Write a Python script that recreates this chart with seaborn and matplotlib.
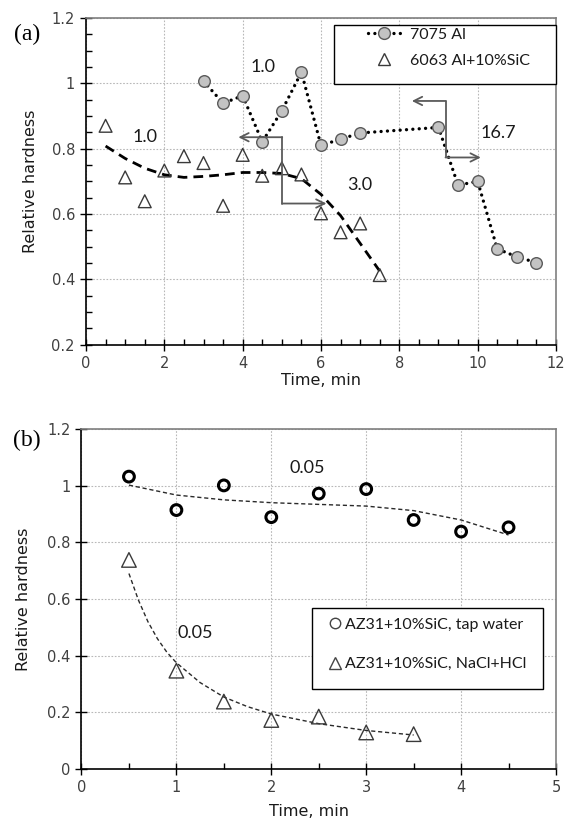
import numpy as np
import pandas as pd
import matplotlib
matplotlib.use("Agg")
import matplotlib.pyplot as plt
from matplotlib import font_manager
from matplotlib.lines import Line2D
from matplotlib.patches import Rectangle
import seaborn as sns

# ---------------- data: panel (a) ----------------
t_7075 = [3, 3.5, 4, 4.5, 5, 5.5, 6, 6.5, 7, 9, 9.5, 10, 10.5, 11, 11.5]
h_7075 = [1.007, 0.939, 0.962, 0.821, 0.916, 1.034, 0.810, 0.829, 0.848,
          0.865, 0.688, 0.700, 0.493, 0.469, 0.451]

t_6063 = [0.5, 1, 1.5, 2, 2.5, 3, 3.5, 4, 4.5, 5, 5.5, 6, 6.5, 7, 7.5]
h_6063 = [0.870, 0.712, 0.639, 0.733, 0.777, 0.756, 0.625, 0.781, 0.717,
          0.740, 0.721, 0.602, 0.544, 0.571, 0.413]

# trend line
t_6063_fit = [0.5, 1, 1.5, 2, 2.5, 3, 3.5, 4, 4.5, 5, 5.5, 6, 6.5, 7, 7.5]
h_6063_fit = [0.808, 0.770, 0.740, 0.720, 0.712, 0.715, 0.720, 0.727, 0.727,
              0.724, 0.708, 0.660, 0.595, 0.510, 0.425]

labels_a = ["7075 Al", "6063 Al+10%SiC"]
notes_a = ["1.0", "1.0", "3.0", "16.7"]

# ---------------- data: panel (b) ----------------
t_tap = [0.5, 1, 1.5, 2, 2.5, 3, 3.5, 4, 4.5]
h_tap = [1.032, 0.914, 1.001, 0.889, 0.972, 0.988, 0.879, 0.838, 0.853]
t_tap_fit = [0.5, 1, 1.5, 2, 2.5, 3, 3.5, 4, 4.5]
h_tap_fit = [1.002, 0.967, 0.950, 0.940, 0.934, 0.928, 0.912, 0.879, 0.826]

t_acid = [0.5, 1, 1.5, 2, 2.5, 3, 3.5]
h_acid = [0.738, 0.347, 0.238, 0.173, 0.185, 0.129, 0.123]
t_acid_fit = [0.5, 0.6, 0.7, 0.8, 0.9, 1, 1.25, 1.5, 1.75, 2, 2.5, 3, 3.5]
h_acid_fit = [0.690, 0.596, 0.520, 0.460, 0.412, 0.375, 0.305, 0.254, 0.220,
              0.194, 0.160, 0.136, 0.120]

labels_b = ["AZ31+10%SiC, tap water", "AZ31+10%SiC, NaCl+HCl"]
notes_b = ["0.05", "0.05"]

# ---------------- fonts ----------------
sns.set_style("white")
avail = {f.name for f in font_manager.fontManager.ttflist}
tick_font = "Liberation Sans Narrow" if "Liberation Sans Narrow" in avail else "DejaVu Sans"
main_font = "Lato" if "Lato" in avail else "DejaVu Sans"
serif_font = "Liberation Serif" if "Liberation Serif" in avail else "DejaVu Serif"
plt.rcParams["font.family"] = [main_font, "DejaVu Sans"]

TXT = "#1a1a1a"
TICKC = "#404040"
GRID = "#b8b8b8"
DOTS = (0, (0.01, 1.9))

fig = plt.figure(figsize=(5.64, 8.30), dpi=100)
ax1 = fig.add_axes([0.1525, 0.5848, 0.8333, 0.3935])
ax2 = fig.add_axes([0.1445, 0.0735, 0.8413, 0.4096])


def style_axes(ax, xlim, ylim, xmaj, ymaj, xminor, yminor):
    ax.set_xlim(*xlim)
    ax.set_ylim(*ylim)
    ax.set_xticks(xmaj)
    ax.set_yticks(ymaj)
    if xminor is not None:
        ax.set_xticks(xminor, minor=True)
    if yminor is not None:
        ax.set_yticks(yminor, minor=True)
    ax.grid(True, which="major", color=GRID, linestyle=(0, (1.5, 1.5)), linewidth=0.8)
    ax.set_axisbelow(True)
    for s in ["left", "bottom"]:
        ax.spines[s].set_color("black")
        ax.spines[s].set_linewidth(1.2)
    for s in ["top", "right"]:
        ax.spines[s].set_color("#7f7f7f")
        ax.spines[s].set_linewidth(1.2)
    ax.tick_params(which="major", direction="inout", length=8, width=1.0,
                   color="black", labelcolor=TICKC, labelsize=10.5, pad=4)
    ax.tick_params(which="minor", direction="in", length=4, width=1.0, color="black")
    ax.tick_params(axis="both", which="both", left=True, bottom=True, top=False, right=False)


def fmt(v):
    s = ("%.1f" % v)
    return s[:-2] if s.endswith(".0") else s


LABEL_KW = dict(fontsize=11.5, color=TXT, family=["DejaVu Sans"])

# ---------------- panel (a) ----------------
df_7075 = pd.DataFrame({"t": t_7075, "h": h_7075})
df_6063 = pd.DataFrame({"t": t_6063, "h": h_6063})
df_6063_fit = pd.DataFrame({"t": t_6063_fit, "h": h_6063_fit})

sns.lineplot(data=df_7075, x="t", y="h", ax=ax1, color="black",
             linestyle=DOTS, linewidth=2.4, dash_capstyle="round",
             sort=False, estimator=None, zorder=3)
sns.scatterplot(data=df_7075, x="t", y="h", ax=ax1, marker="o", s=70,
                facecolor="#c3c3c3", edgecolor="#5a5a5a", linewidth=1.0, zorder=4)
sns.lineplot(data=df_6063_fit, x="t", y="h", ax=ax1, color="black",
             linestyle=(0, (3.5, 2.2)), linewidth=2.0, estimator=None, zorder=3)
sns.scatterplot(data=df_6063, x="t", y="h", ax=ax1, marker="^", s=85,
                facecolor="none", edgecolor="#3a3a3a", linewidth=1.0, zorder=4)

style_axes(ax1, (0, 12), (0.2, 1.2), np.arange(0, 13, 2), np.arange(0.2, 1.21, 0.2),
           np.arange(0, 12.01, 0.5), np.arange(0.2, 1.201, 0.05))
ax1.set_xticklabels([fmt(v) for v in np.arange(0, 13, 2)], fontfamily=[tick_font, "DejaVu Sans"])
ax1.set_yticklabels([fmt(v) for v in np.arange(0.2, 1.21, 0.2)], fontfamily=[tick_font, "DejaVu Sans"])
ax1.set_xlabel("Time, min", **LABEL_KW)
ax1.set_ylabel("Relative hardness", **LABEL_KW)
ax1.xaxis.set_label_coords(0.5, -0.086)
ax1.yaxis.set_label_coords(-0.102, 0.5)

note_pos_a = [(1.51, 0.835), (4.53, 1.051), (7.0, 0.689), (10.53, 0.847)]
for txt, (x, y) in zip(notes_a, note_pos_a):
    ax1.text(x, y, txt, fontsize=13, color=TXT, ha="center", va="center")

ARROWC = "#5a5a5a"
arrows_a = [  # (x_vertical, y_top, y_bottom, x_left_tip, x_right_tip)
    (5.01, 0.835, 0.632, 3.89, 6.14),
    (9.18, 0.946, 0.773, 8.32, 10.08),
]
for xv, yt, yb, xl, xr in arrows_a:
    ax1.plot([xv, xv], [yt, yb], color=ARROWC, linewidth=1.3, zorder=5)
    ax1.annotate("", xy=(xl, yt), xytext=(xv, yt),
                 arrowprops=dict(arrowstyle="->,head_length=0.6,head_width=0.3",
                                 color=ARROWC, lw=1.3, shrinkA=0, shrinkB=0), zorder=5)
    ax1.annotate("", xy=(xr, yb), xytext=(xv, yb),
                 arrowprops=dict(arrowstyle="->,head_length=0.6,head_width=0.3",
                                 color=ARROWC, lw=1.3, shrinkA=0, shrinkB=0), zorder=5)

ax1.add_patch(Rectangle((0.528, 0.797), 0.472, 0.182, transform=ax1.transAxes,
                        facecolor="white", edgecolor="black", linewidth=1.0, zorder=6,
                        clip_on=False))
h1 = Line2D([], [], color="black", linestyle=DOTS, linewidth=2.4,
            dash_capstyle="round", marker="o", markersize=8.5,
            markerfacecolor="#c3c3c3", markeredgecolor="#5a5a5a")
h2 = Line2D([], [], linestyle="none", marker="^", markersize=9,
            markerfacecolor="none", markeredgecolor="#3a3a3a")
leg1 = ax1.legend([h1, h2], labels_a, loc="upper left", bbox_to_anchor=(0.59, 0.985),
                  frameon=False, fontsize=11.5, handlelength=2.0, handletextpad=0.6,
                  labelspacing=0.75, borderpad=0.3, borderaxespad=0)
leg1.set_zorder(7)
for t in leg1.get_texts():
    t.set_color(TXT)

fig.text(0.048, 0.958, "(a)", fontsize=17, family=serif_font, ha="center", va="center",
         color="black")

# ---------------- panel (b) ----------------
df_tap = pd.DataFrame({"t": t_tap, "h": h_tap})
df_tap_fit = pd.DataFrame({"t": t_tap_fit, "h": h_tap_fit})
df_acid = pd.DataFrame({"t": t_acid, "h": h_acid})
df_acid_fit = pd.DataFrame({"t": t_acid_fit, "h": h_acid_fit})

sns.lineplot(data=df_tap_fit, x="t", y="h", ax=ax2, color="#2a2a2a",
             linestyle=(0, (3, 2)), linewidth=1.0, estimator=None, zorder=3)
sns.lineplot(data=df_acid_fit, x="t", y="h", ax=ax2, color="#2a2a2a",
             linestyle=(0, (3, 2)), linewidth=1.0, estimator=None, zorder=3)
sns.scatterplot(data=df_tap, x="t", y="h", ax=ax2, marker="o", s=60,
                facecolor="none", edgecolor="black", linewidth=2.2, zorder=4)
sns.scatterplot(data=df_acid, x="t", y="h", ax=ax2, marker="^", s=110,
                facecolor="none", edgecolor="#3a3a3a", linewidth=1.0, zorder=4)

style_axes(ax2, (0, 5), (0, 1.2), np.arange(0, 6, 1), np.arange(0, 1.21, 0.2),
           np.arange(0, 5.01, 0.5), None)
ax2.set_xticklabels([fmt(v) for v in np.arange(0, 6, 1)], fontfamily=[tick_font, "DejaVu Sans"])
ax2.set_yticklabels([fmt(v) for v in np.arange(0, 1.21, 0.2)], fontfamily=[tick_font, "DejaVu Sans"])
ax2.set_xlabel("Time, min", **LABEL_KW)
ax2.set_ylabel("Relative hardness", **LABEL_KW)
ax2.xaxis.set_label_coords(0.48, -0.103)
ax2.yaxis.set_label_coords(-0.106, 0.5)

note_pos_b = [(2.38, 1.061), (1.195, 0.479)]
for txt, (x, y) in zip(notes_b, note_pos_b):
    ax2.text(x, y, txt, fontsize=13, color=TXT, ha="center", va="center")

ax2.add_patch(Rectangle((0.485, 0.2344), 0.488, 0.2382, transform=ax2.transAxes,
                        facecolor="white", edgecolor="black", linewidth=1.0, zorder=6))
h3 = Line2D([], [], linestyle="none", marker="o", markersize=7.5,
            markerfacecolor="none", markeredgecolor="#444444", markeredgewidth=1.0)
h4 = Line2D([], [], linestyle="none", marker="^", markersize=8,
            markerfacecolor="none", markeredgecolor="#444444", markeredgewidth=1.0)
leg2 = ax2.legend([h3, h4], labels_b, loc="upper left", bbox_to_anchor=(0.514, 0.46),
                  frameon=False, fontsize=11.5, handlelength=0.6, handletextpad=0.3,
                  labelspacing=1.6, borderpad=0.3, borderaxespad=0)
leg2.set_zorder(7)
for t in leg2.get_texts():
    t.set_color(TXT)

fig.text(0.048, 0.469, "(b)", fontsize=17, family=serif_font, ha="center", va="center",
         color="black")

fig.savefig("out.png", dpi=100)
